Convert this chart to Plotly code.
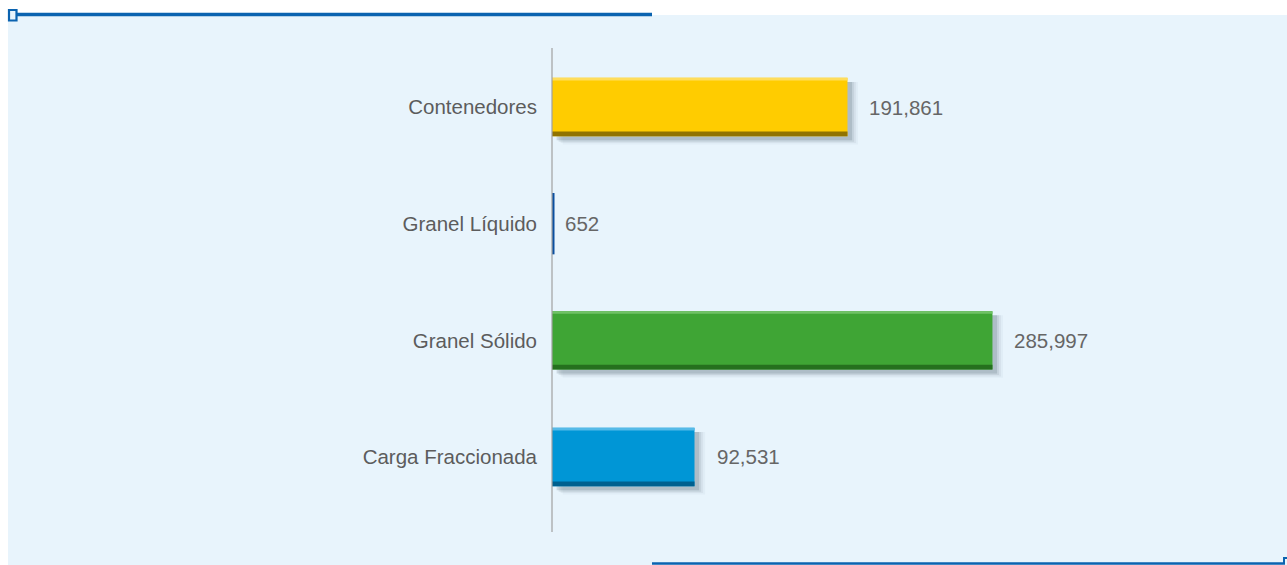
import plotly.graph_objects as go

# ---- data ----
categories = ["Carga Fraccionada", "Granel Sólido", "Granel Líquido", "Contenedores"]
values = [92531, 285997, 652, 191861]
value_labels = ["92,531", "285,997", "652", "191,861"]
bar_colors = ["#0096D6", "#3FA535", "#0A4FA0", "#FFCC00"]
dark_colors = ["#00608F", "#25701E", "#0A4FA0", "#907300"]
light_colors = ["#55BAE8", "#70C266", "#0A4FA0", "#FFDD5C"]

W, H = 1287, 565
L, R, T, B = 552, 119, 48, 33
PW, PH = W - L - R, H - T - B
XMAX = 400000
FONT = "Liberation Sans, Arial, sans-serif"


def px(xp):
    return (xp - L) / PW


def py(yp):
    return (H - B - yp) / PH


fig = go.Figure()

# soft shadow (only where the bar is large enough to cast one)
delta = 3000
shadow_vals = [v if v > 10 * delta else 0 for v in values]
for k, op in [(0, 0.16), (1, 0.10), (2, 0.06), (3, 0.04)]:
    fig.add_trace(go.Bar(
        y=categories, x=shadow_vals, base=delta + k * 1300, orientation="h",
        width=0.5 + 0.012 * k, offset=-0.285 - 0.012 * k,
        marker=dict(color="#3a4a5a", opacity=op, line=dict(width=0)),
        hoverinfo="skip", showlegend=False))

# main bars
fig.add_trace(go.Bar(
    y=categories, x=values, orientation="h", width=0.5, offset=-0.25,
    marker=dict(color=bar_colors, line=dict(color=bar_colors, width=[0, 0, 3, 0])),
    showlegend=False))
# bevel: darker bottom edge, lighter top edge
fig.add_trace(go.Bar(
    y=categories, x=values, orientation="h", width=0.04, offset=-0.25,
    marker=dict(color=dark_colors, line=dict(width=0)),
    hoverinfo="skip", showlegend=False))
fig.add_trace(go.Bar(
    y=categories, x=values, orientation="h", width=0.022, offset=0.228,
    marker=dict(color=light_colors, line=dict(width=0)),
    hoverinfo="skip", showlegend=False))

# value labels
for c, v, t in zip(categories, values, value_labels):
    fig.add_annotation(x=v, y=c, text=t, showarrow=False, xanchor="left",
                       xshift=20 if v > 10000 else 10,
                       font=dict(size=20.5, color="#666666", family=FONT))

shapes = [
    # light blue panel
    dict(type="rect", xref="paper", yref="paper", x0=px(8), x1=px(W + 2),
         y0=py(H + 2), y1=py(15), fillcolor="#E8F4FC", line=dict(width=0), layer="below"),
    # top rule
    dict(type="line", xref="paper", yref="paper", x0=px(16), x1=px(652),
         y0=py(14.5), y1=py(14.5), line=dict(color="#0B63B0", width=3.5)),
    # square marker
    dict(type="rect", xref="paper", yref="paper", x0=px(9), x1=px(16.5),
         y0=py(20.5), y1=py(10), fillcolor="#E8F4FC", line=dict(color="#0B63B0", width=2.2)),
    # bottom rule
    dict(type="line", xref="paper", yref="paper", x0=px(652), x1=px(1285),
         y0=py(563.5), y1=py(563.5), line=dict(color="#0B63B0", width=2.5)),
    dict(type="line", xref="paper", yref="paper", x0=px(1284), x1=px(1284),
         y0=py(564), y1=py(557), line=dict(color="#0B63B0", width=2)),
    dict(type="line", xref="paper", yref="paper", x0=px(1284), x1=px(1288),
         y0=py(558), y1=py(558), line=dict(color="#0B63B0", width=2)),
    # axis line
    dict(type="line", xref="paper", yref="paper", x0=0, x1=0,
         y0=0, y1=1, line=dict(color="#A0A0A0", width=1.2)),
]

fig.update_layout(
    width=W, height=H,
    margin=dict(l=L, r=R, t=T, b=B, pad=0),
    paper_bgcolor="white", plot_bgcolor="rgba(0,0,0,0)",
    barmode="overlay",
    shapes=shapes,
    xaxis=dict(range=[0, XMAX], visible=False, showgrid=False, zeroline=False),
    yaxis=dict(categoryorder="array", categoryarray=categories,
               range=[-0.643, 3.506], showgrid=False, zeroline=False, showline=False,
               ticks="", ticklabelstandoff=14,
               tickfont=dict(size=20.5, color="#5c5c5c", family=FONT)),
    font=dict(family=FONT),
)

fig.write_html("out.html", config={"displayModeBar": False},
               post_script="document.body.style.margin='0';")
